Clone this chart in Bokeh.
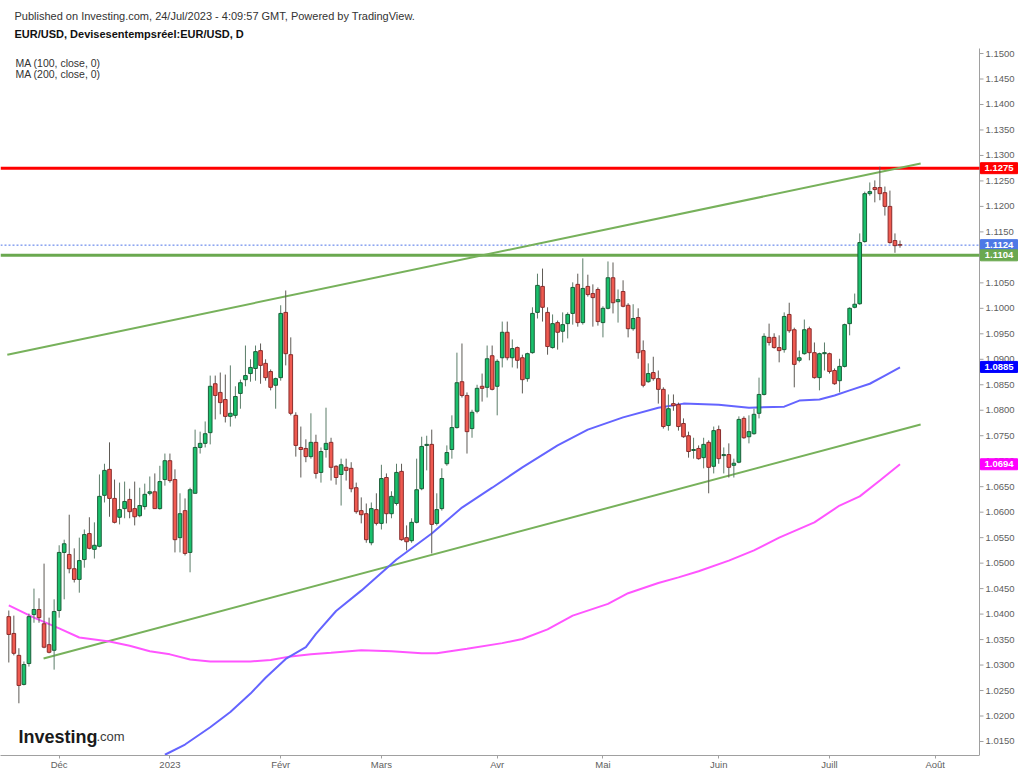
from bokeh.plotting import figure
from bokeh.models import ColumnDataSource, FixedTicker, Label, Range1d
from bokeh.embed import file_html
from bokeh.resources import INLINE
from bokeh.core.properties import value

# ---------------- data ----------------
opens = [1.0395, 1.0362, 1.0319, 1.0262, 1.0303, 1.0399, 1.0409, 1.0381, 1.0340, 1.0329,
         1.0407, 1.0521, 1.0517, 1.0489, 1.0468, 1.0507, 1.0558, 1.0527, 1.0533, 1.0633,
         1.0684, 1.0627, 1.0590, 1.0607, 1.0625, 1.0607, 1.0593, 1.0611, 1.0637, 1.0640,
         1.0607, 1.0664, 1.0701, 1.0664, 1.0550, 1.0603, 1.0521, 1.0637, 1.0727, 1.0735,
         1.0756, 1.0852, 1.0835, 1.0821, 1.0788, 1.0790, 1.0833, 1.0860, 1.0872, 1.0882,
         1.0917, 1.0892, 1.0876, 1.0849, 1.0864, 1.0992, 1.0909, 1.0790, 1.0727, 1.0725,
         1.0709, 1.0737, 1.0678, 1.0723, 1.0737, 1.0690, 1.0674, 1.0688, 1.0686, 1.0648,
         1.0603, 1.0597, 1.0540, 1.0605, 1.0578, 1.0668, 1.0597, 1.0617, 1.0680, 1.0550,
         1.0544, 1.0580, 1.0646, 1.0731, 1.0733, 1.0578, 1.0607, 1.0695, 1.0723, 1.0766,
         1.0856, 1.0829, 1.0764, 1.0798, 1.0847, 1.0845, 1.0907, 1.0847, 1.0903, 1.0953,
         1.0903, 1.0923, 1.0903, 1.0862, 1.0913, 1.0992, 1.1043, 1.0992, 1.0923, 1.0972,
         1.0955, 1.0970, 1.0990, 1.1047, 1.0972, 1.1043, 1.1029, 1.1037, 1.0972, 1.1000,
         1.1060, 1.1013, 1.1033, 1.1006, 1.0960, 1.0982, 1.0917, 1.0856, 1.0874, 1.0862,
         1.0841, 1.0770, 1.0813, 1.0811, 1.0774, 1.0750, 1.0721, 1.0725, 1.0707, 1.0737,
         1.0690, 1.0762, 1.0711, 1.0713, 1.0692, 1.0698, 1.0784, 1.0748, 1.0754, 1.0794,
         1.0831, 1.0943, 1.0943, 1.0923, 1.0919, 1.0988, 1.0958, 1.0898, 1.0911, 1.0960,
         1.0913, 1.0864, 1.0911, 1.0911, 1.0878, 1.0858, 1.0886, 1.0970, 1.1002, 1.1009,
         1.1131, 1.1225, 1.1237, 1.1237, 1.1227, 1.1200, 1.1133, 1.1125]
highs = [1.0407, 1.0397, 1.0333, 1.0307, 1.0401, 1.0450, 1.0431, 1.0499, 1.0393, 1.0429,
         1.0535, 1.0546, 1.0595, 1.0529, 1.0550, 1.0566, 1.0590, 1.0580, 1.0674, 1.0695,
         1.0737, 1.0664, 1.0658, 1.0660, 1.0646, 1.0660, 1.0648, 1.0656, 1.0670, 1.0676,
         1.0691, 1.0715, 1.0715, 1.0684, 1.0637, 1.0627, 1.0648, 1.0762, 1.0758, 1.0778,
         1.0868, 1.0868, 1.0874, 1.0870, 1.0888, 1.0847, 1.0860, 1.0927, 1.0900, 1.0927,
         1.0931, 1.0900, 1.0880, 1.0864, 1.1006, 1.1035, 1.0943, 1.0796, 1.0768, 1.0743,
         1.0794, 1.0752, 1.0727, 1.0805, 1.0746, 1.0692, 1.0705, 1.0705, 1.0698, 1.0658,
         1.0629, 1.0617, 1.0619, 1.0637, 1.0693, 1.0676, 1.0641, 1.0695, 1.0695, 1.0574,
         1.0588, 1.0705, 1.0748, 1.0750, 1.0762, 1.0637, 1.0686, 1.0731, 1.0790, 1.0913,
         1.0931, 1.0835, 1.0801, 1.0850, 1.0872, 1.0927, 1.0927, 1.0900, 1.0974, 1.0974,
         1.0939, 1.0925, 1.0909, 1.0913, 1.1002, 1.1068, 1.1078, 1.1002, 1.0988, 1.0976,
         1.0992, 1.0992, 1.1051, 1.1068, 1.1098, 1.1066, 1.1047, 1.1041, 1.1004, 1.1092,
         1.1090, 1.1037, 1.1055, 1.1010, 1.1008, 1.1000, 1.0937, 1.0892, 1.0905, 1.0878,
         1.0845, 1.0831, 1.0831, 1.0815, 1.0784, 1.0758, 1.0746, 1.0731, 1.0746, 1.0741,
         1.0768, 1.0770, 1.0727, 1.0735, 1.0705, 1.0788, 1.0788, 1.0790, 1.0803, 1.0864,
         1.0951, 1.0970, 1.0951, 1.0947, 1.0992, 1.1011, 1.0962, 1.0917, 1.0978, 1.0964,
         1.0933, 1.0913, 1.0933, 1.0913, 1.0882, 1.0901, 1.0970, 1.1002, 1.1029, 1.1147,
         1.1229, 1.1247, 1.1251, 1.1278, 1.1239, 1.1231, 1.1147, 1.1133]
lows = [1.0305, 1.0319, 1.0225, 1.0260, 1.0297, 1.0383, 1.0383, 1.0333, 1.0323, 1.0291,
        1.0393, 1.0429, 1.0480, 1.0462, 1.0442, 1.0491, 1.0527, 1.0509, 1.0531, 1.0619,
        1.0591, 1.0578, 1.0576, 1.0588, 1.0588, 1.0574, 1.0590, 1.0605, 1.0633, 1.0607,
        1.0605, 1.0652, 1.0658, 1.0521, 1.0521, 1.0515, 1.0482, 1.0637, 1.0715, 1.0727,
        1.0733, 1.0782, 1.0792, 1.0776, 1.0768, 1.0784, 1.0803, 1.0847, 1.0856, 1.0858,
        1.0852, 1.0858, 1.0839, 1.0803, 1.0858, 1.0888, 1.0790, 1.0709, 1.0668, 1.0698,
        1.0705, 1.0666, 1.0658, 1.0707, 1.0662, 1.0654, 1.0613, 1.0662, 1.0639, 1.0597,
        1.0578, 1.0540, 1.0535, 1.0574, 1.0566, 1.0578, 1.0588, 1.0613, 1.0544, 1.0525,
        1.0540, 1.0578, 1.0643, 1.0682, 1.0519, 1.0574, 1.0603, 1.0691, 1.0705, 1.0764,
        1.0825, 1.0715, 1.0746, 1.0794, 1.0817, 1.0825, 1.0839, 1.0790, 1.0884, 1.0898,
        1.0884, 1.0882, 1.0833, 1.0856, 1.0911, 1.0980, 1.0974, 1.0909, 1.0921, 1.0919,
        1.0933, 1.0941, 1.0968, 1.0964, 1.0968, 1.1023, 1.0964, 1.0966, 1.0943, 1.0998,
        1.0990, 1.0972, 1.1002, 1.0943, 1.0956, 1.0901, 1.0845, 1.0854, 1.0858, 1.0813,
        1.0764, 1.0760, 1.0799, 1.0760, 1.0746, 1.0707, 1.0705, 1.0703, 1.0686, 1.0637,
        1.0676, 1.0695, 1.0676, 1.0668, 1.0668, 1.0696, 1.0744, 1.0735, 1.0752, 1.0784,
        1.0829, 1.0927, 1.0921, 1.0894, 1.0913, 1.0952, 1.0845, 1.0894, 1.0909, 1.0898,
        1.0862, 1.0839, 1.0878, 1.0872, 1.0850, 1.0835, 1.0884, 1.0947, 1.1000, 1.1007,
        1.1129, 1.1221, 1.1208, 1.1212, 1.1182, 1.1127, 1.1109, 1.1119]
closes = [1.0360, 1.0323, 1.0260, 1.0301, 1.0395, 1.0409, 1.0393, 1.0335, 1.0325, 1.0405,
          1.0521, 1.0538, 1.0489, 1.0468, 1.0505, 1.0556, 1.0529, 1.0535, 1.0631, 1.0682,
          1.0627, 1.0580, 1.0605, 1.0621, 1.0601, 1.0591, 1.0613, 1.0635, 1.0640, 1.0607,
          1.0660, 1.0701, 1.0662, 1.0546, 1.0597, 1.0519, 1.0644, 1.0727, 1.0735, 1.0754,
          1.0847, 1.0829, 1.0815, 1.0788, 1.0794, 1.0827, 1.0854, 1.0868, 1.0884, 1.0915,
          1.0888, 1.0864, 1.0845, 1.0862, 1.0990, 1.0911, 1.0794, 1.0731, 1.0723, 1.0709,
          1.0737, 1.0676, 1.0719, 1.0735, 1.0688, 1.0668, 1.0693, 1.0682, 1.0646, 1.0601,
          1.0595, 1.0546, 1.0607, 1.0578, 1.0666, 1.0597, 1.0631, 1.0678, 1.0546, 1.0542,
          1.0580, 1.0644, 1.0729, 1.0733, 1.0576, 1.0605, 1.0666, 1.0717, 1.0766, 1.0854,
          1.0829, 1.0758, 1.0796, 1.0843, 1.0843, 1.0901, 1.0841, 1.0896, 1.0953, 1.0903,
          1.0921, 1.0898, 1.0860, 1.0911, 1.0990, 1.1045, 1.1002, 1.0925, 1.0970, 1.0953,
          1.0968, 1.0988, 1.1041, 1.0972, 1.1039, 1.1027, 1.1021, 1.0974, 1.1000, 1.1060,
          1.1011, 1.1017, 1.1004, 1.0960, 1.0980, 1.0913, 1.0849, 1.0872, 1.0862, 1.0841,
          1.0768, 1.0803, 1.0809, 1.0768, 1.0748, 1.0719, 1.0723, 1.0705, 1.0733, 1.0688,
          1.0760, 1.0705, 1.0713, 1.0688, 1.0696, 1.0782, 1.0746, 1.0758, 1.0792, 1.0831,
          1.0945, 1.0933, 1.0923, 1.0917, 1.0984, 1.0956, 1.0890, 1.0903, 1.0958, 1.0913,
          1.0864, 1.0911, 1.0913, 1.0876, 1.0852, 1.0886, 1.0968, 1.1000, 1.1008, 1.1129,
          1.1225, 1.1229, 1.1233, 1.1225, 1.1200, 1.1129, 1.1123, 1.1124]

month_tick_index = [10, 32, 54, 74, 97, 118, 141, 163, 184]
month_tick_labels = ["Déc", "2023", "Févr", "Mars", "Avr", "Mai", "Juin", "Juill", "Août"]

ma100_index = [31, 35, 40, 44, 48, 51, 55, 59, 61, 65, 70, 77, 84, 90, 96, 102, 109, 115,
               122, 129, 134, 141, 147, 154, 157, 161, 164, 167, 171, 174, 177]
ma100_values = [1.0124, 1.0144, 1.0178, 1.0208, 1.0244, 1.0275, 1.0312, 1.0335, 1.0361,
                1.0406, 1.0446, 1.0507, 1.0558, 1.0609, 1.0648, 1.0688, 1.0731, 1.0762,
                1.0786, 1.0805, 1.0813, 1.0811, 1.0805, 1.0807, 1.0819, 1.0821, 1.0829,
                1.0839, 1.0852, 1.0868, 1.0884]

ma200_index = [0, 5, 10, 14, 20, 24, 28, 32, 36, 40, 48, 52, 56, 60, 64, 70, 76, 82, 85,
               91, 98, 102, 107, 112, 119, 123, 129, 133, 137, 143, 148, 153, 160, 165,
               169, 173, 177]
ma200_values = [1.0417, 1.0393, 1.0372, 1.0354, 1.0346, 1.0338, 1.0327, 1.0321, 1.0311,
                1.0307, 1.0307, 1.0310, 1.0317, 1.0321, 1.0324, 1.0329, 1.0327, 1.0323,
                1.0323, 1.0332, 1.0343, 1.0351, 1.0370, 1.0397, 1.0420, 1.0441, 1.0461,
                1.0472, 1.0484, 1.0505, 1.0525, 1.0550, 1.0580, 1.0613, 1.0631, 1.0662,
                1.0694]

upper_trend_index = [-0.3, 181.1]
upper_trend_values = [1.0909, 1.1284]
lower_trend_index = [6.9, 181.1]
lower_trend_values = [1.0313, 1.0772]

resistance_level = 1.1275
support_level = 1.1104
last_price = 1.1124
ma100_last = 1.0885
ma200_last = 1.0694

price_ticks = [round(1.015 + 0.005 * k, 4) for k in range(28)]
price_labels = [f"{t:.4f}" for t in price_ticks]

FONT = "Liberation Sans"

# ---------------- geometry ----------------
FW, FH = 1022, 755            # frame covers the whole drawing area
BAR_PX = 5.035                # pixels per daily bar
X0 = -1.65                    # bar index at the left edge
AXIS_PX = 979                 # position of the price axis line
AX = X0 + AXIS_PX / BAR_PX    # bar-index coordinate of the price axis
PX_PER_PRICE = 5096.0
Y_BOTTOM = 1.01225
Y_TOP = Y_BOTTOM + FH / PX_PER_PRICE
AXIS_TOP = Y_TOP - 48 / PX_PER_PRICE

p = figure(frame_width=FW, frame_height=FH,
           x_range=Range1d(X0, X0 + FW / BAR_PX), y_range=Range1d(Y_BOTTOM, Y_TOP),
           y_axis_location=None, output_backend="svg", toolbar_location=None,
           min_border_left=0, min_border_right=0, min_border_top=0, min_border_bottom=19,
           background_fill_color="white", border_fill_color="white")
p.outline_line_color = None
p.grid.visible = False

xa = p.xaxis[0]
xa.bounds = (X0, AX)
xa.axis_line_color = "#a0a0a0"
xa.major_tick_line_color = "#a0a0a0"
xa.minor_tick_line_color = None
xa.major_tick_in = 0
xa.major_tick_out = 3
xa.major_label_standoff = 0
xa.major_label_text_font = FONT
xa.major_label_text_font_size = "9.5px"
xa.major_label_text_color = "#606060"
xa.ticker = FixedTicker(ticks=month_tick_index)
xa.major_label_overrides = {t: l for t, l in zip(month_tick_index, month_tick_labels)}

# ---- price axis (drawn inside the frame so that the value boxes can sit on it) ----
p.segment(x0=[AX], y0=[Y_BOTTOM], x1=[AX], y1=[AXIS_TOP], line_color="#a0a0a0", line_width=1)
tick_src = ColumnDataSource(dict(y=price_ticks, label=price_labels))
p.segment(x0=AX, y0="y", x1=AX + 4 / BAR_PX, y1="y", source=tick_src,
          line_color="#a0a0a0", line_width=1)
p.text(x=AX + 6 / BAR_PX, y="y", text="label", source=tick_src,
       text_font=value(FONT), text_font_size="9.5px", text_color="#606060",
       text_baseline="middle", text_align="left")

# horizontal levels (up to the axis)
def level(y, color, width, dash="solid"):
    p.segment(x0=[X0], y0=[y], x1=[AX], y1=[y], line_color=color, line_width=width,
              line_dash=dash)

level(resistance_level, "#ff0000", 3)
level(support_level, "#6aa84f", 3)
level(last_price, "#4d74e8", 1, "2 2")

# trend lines
p.line(upper_trend_index, upper_trend_values, line_color="#77b15b", line_width=2)
p.line(lower_trend_index, lower_trend_values, line_color="#77b15b", line_width=2)

# moving averages
p.line(ma200_index, ma200_values, line_color="#ff55ff", line_width=2)
p.line(ma100_index, ma100_values, line_color="#6464ff", line_width=2)

# candles
idx = list(range(len(opens)))
inc = [i for i in idx if closes[i] >= opens[i]]
dec = [i for i in idx if closes[i] < opens[i]]

def src(sel):
    return ColumnDataSource(dict(
        x=sel,
        high=[highs[i] for i in sel], low=[lows[i] for i in sel],
        top=[max(opens[i], closes[i]) for i in sel],
        bottom=[min(opens[i], closes[i]) for i in sel]))

s_inc, s_dec = src(inc), src(dec)
p.segment(x0="x", y0="high", x1="x", y1="low", source=s_inc, line_color="#5b7d69", line_width=1)
p.segment(x0="x", y0="high", x1="x", y1="low", source=s_dec, line_color="#5e5a55", line_width=1)
p.vbar(x="x", width=0.72, top="top", bottom="bottom", source=s_inc,
       fill_color="#19c06c", line_color="#1a5e38", line_width=1)
p.vbar(x="x", width=0.72, top="top", bottom="bottom", source=s_dec,
       fill_color="#ef5a50", line_color="#8a2c2c", line_width=1)

# value boxes on the price axis
box_values = [resistance_level, last_price, support_level, ma100_last, ma200_last]
box_colors = ["#ff0000", "#4d78e6", "#6aa84f", "#0000ff", "#ff00ff"]
box_src = ColumnDataSource(dict(y=box_values, color=box_colors,
                                label=[f"{v:.4f}" for v in box_values]))
BOX_X = AX + 19.5 / BAR_PX
p.rect(x=BOX_X, y="y", width=37, height=11, width_units="screen", height_units="screen",
       source=box_src, fill_color="color", line_color="color")
p.text(x=BOX_X, y="y", text="label", source=box_src, text_font=value(FONT),
       text_font_size="9.5px", text_font_style="bold", text_color="white",
       text_baseline="middle", text_align="center")

# ---------------- texts ----------------
def lab(x, y, text, size, color="#222222", style="normal", baseline="middle"):
    p.add_layout(Label(x=x, y=y, x_units="screen", y_units="screen", text=text,
                       text_font=FONT, text_font_size=size, text_color=color,
                       text_font_style=style, text_baseline=baseline))

lab(14, FH - 15, "Published on Investing.com, 24/Jul/2023 - 4:09:57 GMT, Powered by TradingView.",
    "11px", "#333333")
lab(14, FH - 33, "EUR/USD, Devisesentempsréel:EUR/USD, D", "11px", "#111111", "bold")
lab(15, FH - 62, "MA (100, close, 0)", "10.5px", "#333333")
lab(15, FH - 73, "MA (200, close, 0)", "10.5px", "#333333")
lab(18, 19, "Investing", "18px", "#1a1a1a", "bold", baseline="alphabetic")
lab(96, 19, ".com", "13px", "#3a3a3a", baseline="alphabetic")

open("out.html", "w").write(file_html(p, INLINE))
